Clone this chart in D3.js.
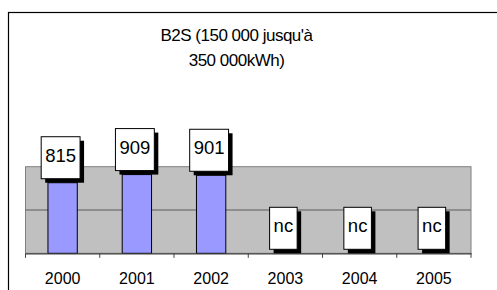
<!DOCTYPE html>
<html>
<head>
<meta charset="utf-8">
<script src="https://cdn.jsdelivr.net/npm/d3@7"></script>
<style>
  body { margin: 0; background: #fff; }
  svg { display: block; font-family: "Liberation Sans", Arial, sans-serif; }
</style>
</head>
<body>
<div id="chart"></div>
<script>
(function () {
    /* ----------------------- Data ----------------------- */
    const years = ["2000", "2001", "2002", "2003", "2004", "2005"];
    const values = [815, 909, 901, null, null, null];
    const valueLabels = ["815", "909", "901", "nc", "nc", "nc"];
    const gridTicks = [0, 500, 1000];
    const titleLines = ["B2S (150 000 jusqu'à", "350 000kWh)"];

    /* ----------------------- Dimensions ----------------------- */
    const W = 497, H = 290;
    const plot = { left: 25.5, right: 471, top: 166.7, bottom: 253.3 };

    const svg = d3.select("#chart").append("svg")
        .attr("width", W)
        .attr("height", H);

    // outer chart frame (only top and left edges are visible)
    svg.append("rect")
        .attr("x", 8.5).attr("y", 12.5)
        .attr("width", W + 10).attr("height", H + 10)
        .attr("fill", "#fff")
        .attr("stroke", "#000")
        .attr("stroke-width", 1.2);

    /* ----------------------- Scales ----------------------- */
    const x = d3.scaleBand().domain(years).range([plot.left, plot.right]).padding(0);
    const y = d3.scaleLinear().domain([0, 1000]).range([plot.bottom, plot.top]);
    const barW = x.bandwidth() * 0.395;

    // plot area
    svg.append("rect")
        .attr("x", plot.left).attr("y", plot.top)
        .attr("width", plot.right - plot.left)
        .attr("height", plot.bottom - plot.top)
        .attr("fill", "#c0c0c0")
        .attr("stroke", "#808080")
        .attr("stroke-width", 1);

    svg.append("g")
        .selectAll("line")
        .data(gridTicks.slice(1, -1))
        .join("line")
        .attr("x1", plot.left).attr("x2", plot.right)
        .attr("y1", d => y(d)).attr("y2", d => y(d))
        .attr("stroke", "#5a5a5a")
        .attr("stroke-width", 1);

    /* ----------------------- Bars ----------------------- */
    svg.append("g")
        .selectAll("rect")
        .data(years.map((yr, i) => ({ yr, v: values[i] })).filter(d => d.v != null))
        .join("rect")
        .attr("x", d => x(d.yr) + (x.bandwidth() - barW) / 2)
        .attr("y", d => y(d.v))
        .attr("width", barW)
        .attr("height", d => y(0) - y(d.v))
        .attr("fill", "#9999ff")
        .attr("stroke", "#000")
        .attr("stroke-width", 1);

    /* ----------------------- X axis ----------------------- */
    const xAxis = d3.axisBottom(x).tickSize(0).tickPadding(0);
    const ax = svg.append("g")
        .attr("transform", `translate(0,${plot.bottom})`)
        .call(xAxis);
    ax.select(".domain").attr("stroke", "#404040").attr("stroke-width", 1.2);
    ax.selectAll(".tick text")
        .attr("y", 31)
        .attr("dy", 0)
        .attr("fill", "#000")
        .style("font-size", "16px")
        .style("font-family", "'Liberation Sans', Arial, sans-serif");
    // tick marks between categories
    ax.selectAll(".sep")
        .data(years.concat(["end"]))
        .join("line")
        .attr("class", "sep")
        .attr("x1", (d, i) => i < years.length ? x(d) : plot.right)
        .attr("x2", (d, i) => i < years.length ? x(d) : plot.right)
        .attr("y1", 0).attr("y2", 4.5)
        .attr("stroke", "#404040")
        .attr("stroke-width", 1);

    /* ----------------------- Value labels ----------------------- */
    const boxH = 42, shadow = 4;
    const lab = svg.append("g")
        .selectAll("g")
        .data(years.map((yr, i) => ({ yr, v: values[i], t: valueLabels[i] })))
        .join("g");

    lab.each(function (d) {
        const g = d3.select(this);
        const txt = g.append("text")
            .text(d.t)
            .attr("text-anchor", "middle")
            .style("font-size", "18.5px")
            .attr("fill", "#000");
        const tw = txt.node().getComputedTextLength();
        const bw = tw + 8;
        const cx = x(d.yr) + x.bandwidth() / 2;
        const bottom = y(d.v == null ? 0 : d.v) - shadow;
        const bx = cx - (bw + shadow) / 2;
        const by = bottom - boxH;
        g.insert("rect", "text")
            .attr("x", bx + shadow).attr("y", by + shadow)
            .attr("width", bw).attr("height", boxH)
            .attr("fill", "#000");
        g.insert("rect", "text")
            .attr("x", bx).attr("y", by)
            .attr("width", bw).attr("height", boxH)
            .attr("fill", "#fff")
            .attr("stroke", "#000")
            .attr("stroke-width", 1);
        txt.attr("x", bx + bw / 2).attr("y", by + 25);
    });

    /* ----------------------- Title ----------------------- */
    svg.append("text")
        .attr("x", 236.5)
        .attr("text-anchor", "middle")
        .style("font-size", "17px")
        .style("letter-spacing", "-0.5px")
        .selectAll("tspan")
        .data(titleLines)
        .join("tspan")
        .attr("x", 236.5)
        .attr("y", (d, i) => 41 + i * 25)
        .text(d => d);
})();
</script>
</body>
</html>
